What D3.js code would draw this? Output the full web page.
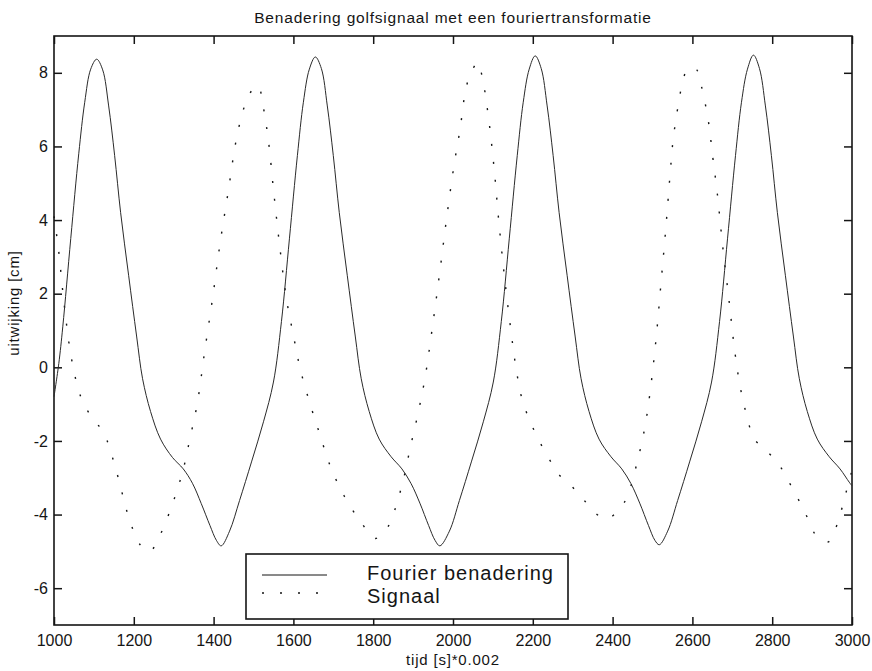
<!DOCTYPE html>
<html>
<head>
<meta charset="utf-8">
<script src="https://cdn.jsdelivr.net/npm/d3@7"></script>
<style>
  body { margin: 0; background: #fff; }
  svg { display: block; font-family: "Liberation Sans", Arial, Helvetica, sans-serif; }
</style>
</head>
<body>
<script>
// Fourier approximation (solid line): time, displacement in cm
const fourierTime = [
    1000, 1012, 1022, 1042, 1062, 1077, 1092, 1107, 1122, 1137, 1152, 1167, 1187, 1207, 1222, 1242,
    1267, 1297, 1324, 1347, 1369, 1391, 1407, 1419, 1440, 1465, 1495, 1525, 1550, 1570, 1590, 1610,
    1625, 1640, 1655, 1670, 1685, 1700, 1715, 1735, 1755, 1770, 1790, 1815, 1845, 1872, 1895, 1917,
    1939, 1955, 1967, 1991, 2016, 2046, 2076, 2101, 2121, 2141, 2161, 2176, 2191, 2206, 2221, 2236,
    2251, 2266, 2286, 2306, 2321, 2341, 2366, 2396, 2423, 2446, 2468, 2490, 2506, 2517, 2538, 2563,
    2593, 2623, 2648, 2668, 2688, 2708, 2723, 2738, 2753, 2768, 2783, 2798, 2813, 2833, 2853, 2868,
    2888, 2913, 2943, 2970, 2993, 3000
];
const fourierValue = [
    -0.8, 0.1, 1.1, 3.5, 5.8, 7.2, 8.1, 8.37, 8.08, 7.1, 5.75, 4.2, 2.5, 0.85, -0.31, -1.2,
    -1.95, -2.45, -2.76, -3.15, -3.7, -4.3, -4.7, -4.85, -4.45, -3.62, -2.57, -1.48, -0.4, 1.24, 3.49, 5.75,
    7.2, 8.1, 8.43, 8.12, 7.1, 5.75, 4.2, 2.5, 0.85, -0.31, -1.2, -1.95, -2.43, -2.76, -3.16, -3.69,
    -4.3, -4.7, -4.85, -4.45, -3.62, -2.57, -1.48, -0.4, 1.24, 3.49, 5.75, 7.2, 8.1, 8.46, 8.12, 7.1,
    5.75, 4.2, 2.5, 0.85, -0.31, -1.2, -1.95, -2.43, -2.76, -3.16, -3.69, -4.3, -4.7, -4.82, -4.45, -3.62,
    -2.57, -1.48, -0.4, 1.24, 3.49, 5.75, 7.2, 8.1, 8.48, 8.12, 7.1, 5.75, 4.2, 2.5, 0.85, -0.31,
    -1.2, -1.95, -2.43, -2.76, -3.12, -3.22
];

// measured signal (dotted line)
const signalTime = [
    1000, 1011, 1025, 1042, 1061, 1076, 1099, 1124, 1140, 1163, 1185, 1216, 1240, 1266, 1297, 1323,
    1341, 1359, 1378, 1398, 1416, 1437, 1458, 1479, 1498, 1512, 1523, 1537, 1551, 1566, 1583, 1600,
    1617, 1640, 1665, 1692, 1727, 1774, 1805, 1834, 1852, 1875, 1894, 1913, 1930, 1949, 1967, 1984,
    2003, 2018, 2030, 2041, 2062, 2074, 2088, 2103, 2115, 2129, 2145, 2157, 2174, 2204, 2243, 2266,
    2300, 2325, 2352, 2383, 2418, 2438, 2462, 2481, 2494, 2509, 2521, 2533, 2544, 2552, 2565, 2573,
    2586, 2598, 2611, 2623, 2640, 2651, 2662, 2676, 2692, 2707, 2721, 2740, 2753, 2782, 2813, 2836,
    2855, 2874, 2892, 2911, 2941, 2962, 2984, 3000
];
const signalValue = [
    4.1, 3.23, 1.76, 0.35, -0.6, -1.02, -1.42, -1.76, -2.22, -3.08, -3.99, -4.82, -5.0, -4.55, -3.71, -2.81,
    -1.92, -0.99, 0.46, 1.92, 3.35, 4.8, 6.25, 7.14, 7.55, 7.65, 7.16, 6.19, 4.73, 3.26, 1.83, 0.87,
    -0.04, -0.93, -1.78, -2.67, -3.49, -4.28, -4.65, -4.38, -3.94, -3.08, -2.13, -1.22, -0.28, 1.14, 2.6, 4.05,
    5.52, 6.49, 7.43, 7.89, 8.28, 7.84, 6.87, 5.41, 3.94, 2.46, 1.01, 0.05, -0.9, -1.73, -2.53, -2.92,
    -3.26, -3.56, -3.91, -4.12, -3.85, -3.47, -2.56, -1.62, -0.67, 0.78, 2.25, 3.73, 5.23, 6.21, 7.16, 7.62,
    8.08, 8.15, 8.08, 7.62, 6.69, 5.71, 4.76, 3.28, 1.8, 0.37, -0.6, -1.47, -1.92, -2.23, -2.58, -2.99,
    -3.38, -3.76, -4.17, -4.58, -4.74, -4.29, -3.44, -2.8
];

const xTicks = [1000, 1200, 1400, 1600, 1800, 2000, 2200, 2400, 2600, 2800, 3000];
const yTicks = [-6, -4, -2, 0, 2, 4, 6, 8];
const legendLabels = ['Fourier benadering', 'Signaal'];

const width = 872;
const height = 671;
const plot = { left: 54, right: 852, top: 36, bottom: 625 };
const ink = '#151515';

const svg = d3.select('body').append('svg')
    .attr('width', width)
    .attr('height', height);

svg.append('rect')
    .attr('width', width)
    .attr('height', height)
    .attr('fill', '#fff');

const x = d3.scaleLinear()
    .domain([1000, 3000])
    .range([plot.left, plot.right]);
const y = d3.scaleLinear()
    .domain([-7, 9])
    .range([plot.bottom, plot.top]);

// ticks point inward on all four sides, labels only bottom and left
const styleAxis = (g, size) => {
    g.select('.domain').remove();
    g.selectAll('.tick line').attr('stroke', ink).attr('stroke-width', 1.5);
    g.selectAll('.tick text')
        .attr('fill', ink)
        .style('font-family', '"Liberation Sans", Arial, sans-serif')
        .style('font-size', `${size}px`);
};

svg.append('g')
    .attr('transform', `translate(0, ${plot.bottom})`)
    .call(d3.axisBottom(x).tickValues(xTicks).tickSize(-8).tickPadding(10).tickFormat(d => String(d)))
    .call(g => styleAxis(g, 16));

svg.append('g')
    .attr('transform', `translate(0, ${plot.top})`)
    .call(d3.axisTop(x).tickValues(xTicks).tickSize(-8).tickFormat(''))
    .call(g => styleAxis(g, 16));

svg.append('g')
    .attr('transform', `translate(${plot.left}, 0)`)
    .call(d3.axisLeft(y).tickValues(yTicks).tickSize(-8).tickPadding(6).tickFormat(d => String(d)))
    .call(g => styleAxis(g, 16));

svg.append('g')
    .attr('transform', `translate(${plot.right}, 0)`)
    .call(d3.axisRight(y).tickValues(yTicks).tickSize(-8).tickFormat(''))
    .call(g => styleAxis(g, 16));

svg.append('rect')
    .attr('x', plot.left)
    .attr('y', plot.top)
    .attr('width', plot.right - plot.left)
    .attr('height', plot.bottom - plot.top)
    .attr('fill', 'none')
    .attr('stroke', ink)
    .attr('stroke-width', 1.6);

const line = d3.line()
    .x(d => x(d[0]))
    .y(d => y(d[1]))
    .curve(d3.curveCatmullRom.alpha(0.5));

svg.append('path')
    .datum(d3.zip(signalTime, signalValue))
    .attr('d', line)
    .attr('fill', 'none')
    .attr('stroke', ink)
    .attr('stroke-width', 1.4)
    .attr('stroke-dasharray', '2,16');

svg.append('path')
    .datum(d3.zip(fourierTime, fourierValue))
    .attr('d', line)
    .attr('fill', 'none')
    .attr('stroke', '#2a2a2a')
    .attr('stroke-width', 1);

// legend box
const legend = svg.append('g');
legend.append('rect')
    .attr('x', 246)
    .attr('y', 554)
    .attr('width', 322)
    .attr('height', 65)
    .attr('fill', '#fff')
    .attr('stroke', ink)
    .attr('stroke-width', 1.6);

legendLabels.forEach((label, i) => {
    const ly = 575 + i * 18;
    legend.append('line')
        .attr('x1', 262)
        .attr('x2', 327)
        .attr('y1', ly)
        .attr('y2', ly)
        .attr('stroke', ink)
        .attr('stroke-width', i === 0 ? 1 : 1.4)
        .attr('stroke-dasharray', i === 0 ? null : '2,16');
    legend.append('text')
        .attr('x', 367)
        .attr('y', 580 + i * 23)
        .attr('fill', ink)
        .style('font-size', '20px')
        .style('letter-spacing', '1px')
        .text(label);
});

svg.append('text')
    .attr('x', (plot.left + plot.right) / 2)
    .attr('y', 23)
    .attr('text-anchor', 'middle')
    .attr('fill', ink)
    .style('font-size', '15.5px')
    .style('letter-spacing', '0.8px')
    .text('Benadering golfsignaal met een fouriertransformatie');

svg.append('text')
    .attr('x', (plot.left + plot.right) / 2)
    .attr('y', 665)
    .attr('text-anchor', 'middle')
    .attr('fill', ink)
    .style('font-size', '15px')
    .style('letter-spacing', '0.8px')
    .text('tijd [s]*0.002');

svg.append('text')
    .attr('transform', `translate(19, 303) rotate(-90)`)
    .attr('text-anchor', 'middle')
    .attr('fill', ink)
    .style('font-size', '15px')
    .style('letter-spacing', '0.8px')
    .text('uitwijking [cm]');
</script>
</body>
</html>
